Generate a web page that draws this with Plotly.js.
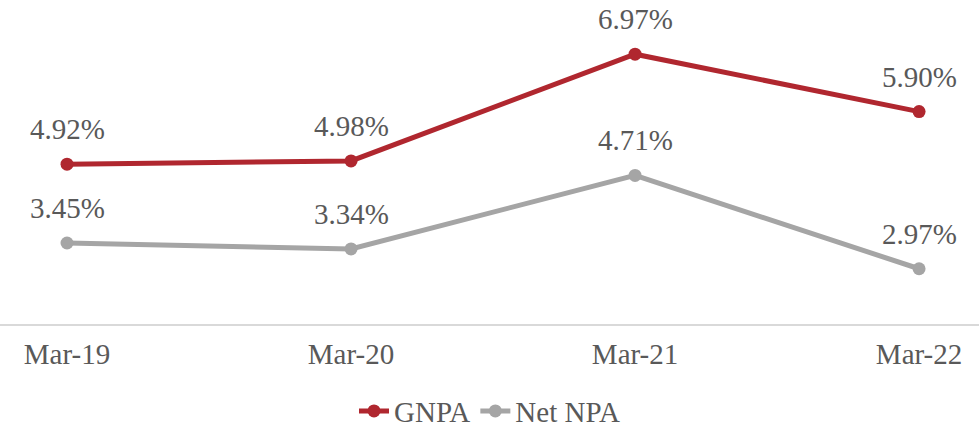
<!DOCTYPE html>
<html><head><meta charset="utf-8">
<script src="https://cdn.plot.ly/plotly-3.0.1.min.js"></script>
<style>html,body{margin:0;padding:0;background:#fff;}#chart{width:979px;height:430px;}</style>
</head><body><div id="chart"></div>
<script>
const categories = ["Mar-19", "Mar-20", "Mar-21", "Mar-22"];
const gnpa = [4.92, 4.98, 6.97, 5.90];
const netNpa = [3.45, 3.34, 4.71, 2.97];
const seriesNames = ["GNPA", "Net NPA"];
const colors = ["#B0272F", "#A5A5A5"];

const fontFam = "'Liberation Serif', 'Times New Roman', serif";
const textColor = "#595959";

const traces = [gnpa, netNpa].map((vals, i) => ({
  type: "scatter", mode: "lines+markers",
  x: categories, y: vals, name: seriesNames[i],
  line: {color: colors[i], width: 5},
  marker: {color: colors[i], size: 13},
  hoverinfo: "skip"
}));

const annotations = [];
[gnpa, netNpa].forEach((vals) => {
  vals.forEach((v, j) => {
    annotations.push({
      x: categories[j], y: v, xref: "x", yref: "y",
      text: v.toFixed(2) + "%", showarrow: false, yshift: 35,
      font: {family: fontFam, size: 29, color: textColor}
    });
  });
});

const layout = {
  width: 979, height: 430,
  margin: {l: 0, r: 0, t: 0, b: 106, autoexpand: false},
  paper_bgcolor: "#fff", plot_bgcolor: "#fff",
  showlegend: true,
  legend: {orientation: "h", x: 0.5, xanchor: "center", yref: "container", y: 0.044, yanchor: "middle",
           font: {family: fontFam, size: 29, color: textColor}},
  xaxis: {type: "category", range: [-0.236, 3.211], showgrid: false, zeroline: false,
          showline: true, linecolor: "#D9D9D9", linewidth: 2, ticks: "",
          ticklabelstandoff: 3, automargin: false,
          tickfont: {family: fontFam, size: 29, color: textColor}, fixedrange: true},
  yaxis: {range: [1.94, 7.98], showgrid: false, zeroline: false, showticklabels: false,
          showline: false, ticks: "", fixedrange: true, automargin: false},
  annotations: annotations
};

Plotly.newPlot("chart", traces, layout, {displayModeBar: false, staticPlot: true});
</script></body></html>
